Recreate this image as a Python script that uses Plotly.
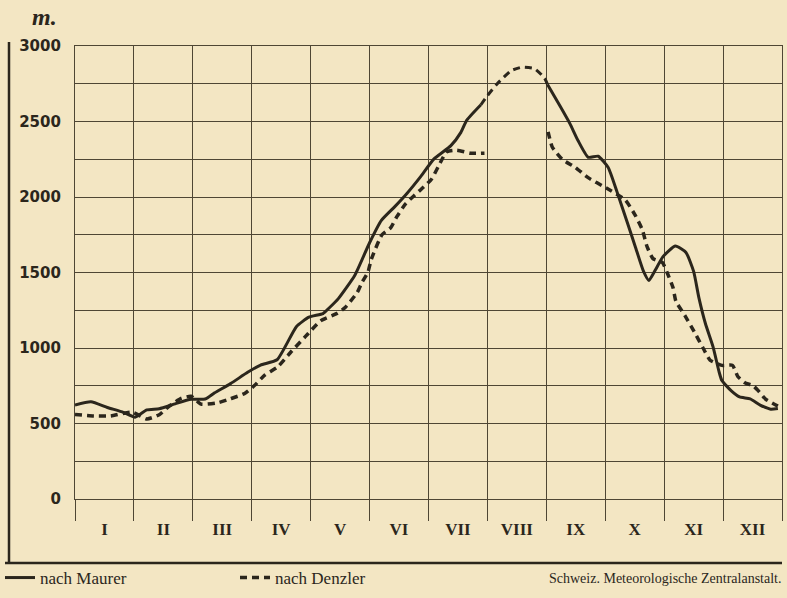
import plotly.graph_objects as go

# ---- data ----
months = ["I", "II", "III", "IV", "V", "VI", "VII", "VIII", "IX", "X", "XI", "XII"]
month_centers = [i + 0.5 for i in range(12)]
month_bounds = list(range(13))
y_ticks = [0, 500, 1000, 1500, 2000, 2500, 3000]

# nach Maurer (solid), Jan - Jul
maurer1_x = [0.0, 0.27, 0.55, 0.82, 1.02, 1.22, 1.43, 1.71, 1.97, 2.21, 2.37, 2.64, 2.93, 3.15, 3.43,
             3.76, 3.97, 4.21, 4.30, 4.47, 4.75, 5.00, 5.20, 5.42, 5.63, 5.87, 6.09, 6.38, 6.55, 6.65, 6.89]
maurer1_y = [623, 644, 606, 574, 542, 590, 598, 632, 660, 662, 703, 764, 839, 887, 922,
             1143, 1204, 1228, 1260, 1327, 1482, 1697, 1845, 1933, 2022, 2137, 2251, 2340, 2428, 2509, 2611]
# nach Maurer, interpolated part (drawn dashed) in VIII
maurer_gap_x = [6.89, 6.99, 7.16, 7.40, 7.59, 7.80, 7.97, 8.02]
maurer_gap_y = [2611, 2666, 2747, 2836, 2860, 2850, 2787, 2745]
# nach Maurer (solid), Sep - Dec
maurer2_x = [8.02, 8.23, 8.40, 8.54, 8.71, 8.88, 9.05, 9.20, 9.38, 9.51, 9.65, 9.74, 9.85, 9.98,
             10.19, 10.37, 10.50, 10.59, 10.70, 10.83, 10.93, 10.98, 11.14, 11.28, 11.46, 11.63, 11.81, 11.93]
maurer2_y = [2745, 2604, 2486, 2372, 2263, 2270, 2196, 2034, 1824, 1671, 1507, 1447, 1516, 1605,
             1675, 1633, 1507, 1332, 1162, 1007, 845, 784, 716, 676, 663, 622, 595, 600]

# nach Denzler (dashed), Jan - Jul
denzler1_x = [0.0, 0.32, 0.60, 0.97, 1.22, 1.43, 1.59, 1.80, 1.97, 2.14, 2.42, 2.64, 2.88, 3.05, 3.22,
              3.44, 3.68, 3.92, 4.17, 4.45, 4.59, 4.79, 4.87, 4.97, 5.03, 5.21, 5.36, 5.46, 5.61, 5.75,
              5.88, 6.05, 6.17, 6.31, 6.48, 6.72, 6.95]
denzler1_y = [560, 550, 550, 575, 530, 558, 612, 666, 680, 628, 637, 664, 699, 753, 820,
              875, 980, 1080, 1180, 1230, 1270, 1368, 1434, 1500, 1588, 1750, 1797, 1868, 1954, 2007,
              2053, 2118, 2204, 2300, 2310, 2290, 2290]
# nach Denzler (dashed), Sep - Dec
denzler2_x = [8.03, 8.10, 8.27, 8.49, 8.71, 9.01, 9.34, 9.51, 9.63, 9.71, 9.81, 9.97, 10.05, 10.15,
              10.20, 10.35, 10.51, 10.66, 10.78, 10.98, 11.16, 11.25, 11.37, 11.51, 11.60, 11.72, 11.93]
denzler2_y = [2432, 2331, 2250, 2196, 2128, 2061, 1980, 1878, 1783, 1671, 1592, 1566, 1500, 1400,
              1309, 1216, 1108, 1000, 919, 885, 885, 811, 770, 750, 716, 662, 615]

# ---- styling ----
BG = "#F3E6C3"
INK = "#2B261C"
GRID = "#4E4634"
DASH = "7px,5px"

fig = go.Figure()
fig.add_trace(go.Scatter(x=maurer1_x, y=maurer1_y, mode="lines", name="nach Maurer",
                         line=dict(color=INK, width=3, shape="spline", smoothing=0.5),
                         legendgroup="m"))
fig.add_trace(go.Scatter(x=maurer_gap_x, y=maurer_gap_y, mode="lines", showlegend=False,
                         line=dict(color=INK, width=3, dash=DASH, shape="spline", smoothing=0.5),
                         legendgroup="m"))
fig.add_trace(go.Scatter(x=maurer2_x, y=maurer2_y, mode="lines", showlegend=False,
                         line=dict(color=INK, width=3, shape="spline", smoothing=0.5),
                         legendgroup="m"))
fig.add_trace(go.Scatter(x=denzler1_x, y=denzler1_y, mode="lines", name="nach Denzler",
                         line=dict(color=INK, width=3.5, dash=DASH, shape="spline", smoothing=0.5),
                         legendgroup="d"))
fig.add_trace(go.Scatter(x=denzler2_x, y=denzler2_y, mode="lines", showlegend=False,
                         line=dict(color=INK, width=3.5, dash=DASH, shape="spline", smoothing=0.5),
                         legendgroup="d"))

L, T, W, H = 75, 46, 707, 453


def px_x(p):
    return (p - L) / W


def px_y(p):
    return (T + H - p) / H


fig.update_layout(
    width=787, height=598,
    margin=dict(l=L, r=787 - L - W, t=T, b=598 - T - H, pad=0, autoexpand=False),
    paper_bgcolor=BG, plot_bgcolor=BG,
    font=dict(family="Liberation Serif", color=INK),
    xaxis=dict(
        range=[0, 12], tickmode="array", tickvals=month_centers, ticktext=months,
        showgrid=False, ticks="", zeroline=False, automargin=False,
        tickfont=dict(family="Liberation Serif", size=17, color=INK, weight="bold"),
        ticklabelstandoff=14,
        showline=True, mirror=True, linecolor=GRID, linewidth=1.2,
        minor=dict(tickmode="array", tickvals=month_bounds, showgrid=True, gridcolor=GRID,
                   gridwidth=1, ticks="outside", ticklen=21, tickwidth=1.2, tickcolor=GRID),
    ),
    yaxis=dict(
        range=[0, 3000], tickmode="array", tickvals=y_ticks, ticktext=[str(v) for v in y_ticks],
        showgrid=True, gridcolor=GRID, gridwidth=1, zeroline=False, ticks="", automargin=False,
        tickfont=dict(family="DejaVu Sans", size=15, color=INK, weight="bold"),
        ticklabelstandoff=10,
        showline=True, mirror=True, linecolor=GRID, linewidth=1.2,
        minor=dict(dtick=250, showgrid=True, gridcolor=GRID, gridwidth=1),
    ),
    legend=dict(orientation="h", x=px_x(0), xanchor="left", y=px_y(578), yanchor="middle",
                bgcolor="rgba(0,0,0,0)", font=dict(family="Liberation Serif", size=17, color=INK),
                entrywidth=190, itemwidth=30, tracegroupgap=0),
    showlegend=True,
)

# frame lines (decoration)
fig.add_shape(type="line", xref="paper", yref="paper", x0=px_x(9), x1=px_x(9), y0=px_y(42), y1=px_y(563),
              line=dict(color=INK, width=2.5))
fig.add_shape(type="line", xref="paper", yref="paper", x0=px_x(5), x1=px_x(782), y0=px_y(563), y1=px_y(563),
              line=dict(color=INK, width=2.5))

fig.add_annotation(text="<b><i>m.</i></b>", xref="paper", yref="paper", x=px_x(44), y=px_y(17),
                   xanchor="center", yanchor="middle",
                   showarrow=False, font=dict(family="Liberation Serif", size=24, color=INK))
fig.add_annotation(text="Schweiz. Meteorologische Zentralanstalt.", xref="paper", yref="paper",
                   x=px_x(783), y=px_y(578), xanchor="right", yanchor="middle", showarrow=False,
                   font=dict(family="Liberation Serif", size=14, color=INK))

fig.write_html("out.html", config={"displayModeBar": False},
               post_script="document.body.style.margin='0';")
